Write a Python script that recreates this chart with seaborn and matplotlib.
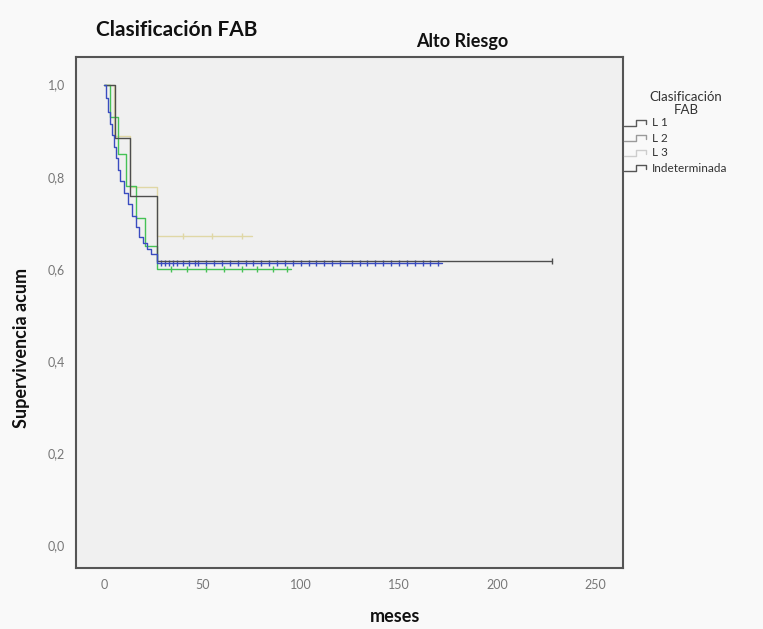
import numpy as np
import pandas as pd
import matplotlib
matplotlib.use("Agg")
import matplotlib.pyplot as plt
import seaborn as sns

# Kaplan-Meier step curves per FAB class (high-risk group)
groups = ["L 1", "L 2", "L 3", "Indeterminada"]

l1_t = [0, 1, 2, 3, 4, 5, 6, 7, 8, 10, 12, 14, 16, 18, 20, 22, 24, 27, 172]
l1_s = [1.0, 0.97, 0.94, 0.915, 0.89, 0.865, 0.84, 0.815, 0.79, 0.765, 0.74, 0.715,
        0.69, 0.67, 0.655, 0.642, 0.632, 0.612, 0.612]
l1_cens = [29, 31, 33, 35, 37, 40, 43, 46, 48, 52, 56, 60, 64, 68, 72, 76, 80, 84,
           88, 92, 96, 100, 104, 108, 112, 116, 120, 126, 130, 134, 138, 142, 146,
           150, 154, 158, 162, 166, 170]

l2_t = [0, 3, 7, 11, 16, 21, 27, 95]
l2_s = [1.0, 0.93, 0.85, 0.78, 0.71, 0.65, 0.600, 0.600]
l2_cens = [34, 42, 52, 61, 70, 78, 86, 93]

l3_t = [0, 5, 13, 27, 75]
l3_s = [1.0, 0.889, 0.778, 0.672, 0.672]
l3_cens = [40, 55, 70]

ind_t = [0, 5.5, 13, 27, 228]
ind_s = [1.0, 0.885, 0.757, 0.616, 0.616]
ind_cens = [228]

colors = {"L 1": "#3a4cc0", "L 2": "#45c255", "L 3": "#e0d7a6", "Indeterminada": "#4d4d4d"}
legend_colors = {"L 1": "#5a5a5a", "L 2": "#9a9a9a", "L 3": "#cdcdcd", "Indeterminada": "#555555"}

curves = {"L 1": (l1_t, l1_s, l1_cens), "L 2": (l2_t, l2_s, l2_cens),
          "L 3": (l3_t, l3_s, l3_cens), "Indeterminada": (ind_t, ind_s, ind_cens)}

rows, cens_rows = [], []
for g in groups:
    t, s, c = curves[g]
    for ti, si in zip(t, s):
        rows.append({"meses": ti, "surv": si, "grupo": g})
    for ci in c:
        cens_rows.append({"meses": ci, "surv": s[-1], "grupo": g})
df = pd.DataFrame(rows)
dfc = pd.DataFrame(cens_rows)

sns.set_theme(style="white")
plt.rcParams["font.family"] = ["Lato", "DejaVu Sans"]

fig = plt.figure(figsize=(7.63, 6.29), dpi=100, facecolor="#f9f9f9")
ax = fig.add_axes([76 / 763, 1 - 568 / 629, (623 - 76) / 763, (568 - 57) / 629])
ax.set_facecolor("#f0f0f0")

order_draw = ["L 3", "L 2", "Indeterminada", "L 1"]
for g in order_draw:
    sub = df[df["grupo"] == g]
    sns.lineplot(data=sub, x="meses", y="surv", ax=ax, color=colors[g],
                 drawstyle="steps-post", estimator=None, sort=False,
                 linewidth=1.0, legend=False)
    subc = dfc[dfc["grupo"] == g]
    sns.scatterplot(data=subc, x="meses", y="surv", ax=ax, color=colors[g],
                    marker="|", s=22, linewidth=1.0, legend=False)

ax.set_xlim(-14.3, 264)
ax.set_ylim(-0.05, 1.06)
ax.set_xticks([0, 50, 100, 150, 200, 250])
ax.set_yticks([0.0, 0.2, 0.4, 0.6, 0.8, 1.0])
ax.set_yticklabels(["0,0", "0,2", "0,4", "0,6", "0,8", "1,0"])
ax.tick_params(axis="both", direction="out", length=5, width=1.2, color="#444444",
               labelsize=9, labelcolor="#777777", pad=3)
ax.set_xlabel("")
ax.set_ylabel("")
for sp in ax.spines.values():
    sp.set_color("#555555")
    sp.set_linewidth(1.5)

fig.text(96 / 763, 1 - 30 / 629, "Clasificación FAB", fontsize=15, fontweight="bold",
         ha="left", va="center", color="#111111")
fig.text(462 / 763, 1 - 42 / 629, "Alto Riesgo", fontsize=13, fontweight="bold",
         ha="center", va="center", color="#111111")
fig.text(22 / 763, 1 - 348 / 629, "Supervivencia acum", fontsize=13, fontweight="bold",
         rotation=90, ha="center", va="center", color="#111111")
fig.text(395 / 763, 1 - 617 / 629, "meses", fontsize=13, fontweight="bold",
         ha="center", va="center", color="#111111")

# legend block to the right of the plot
fig.text(686 / 763, 1 - 97 / 629, "Clasificación", fontsize=9.5, ha="center",
         va="center", color="#333333")
fig.text(686 / 763, 1 - 110 / 629, "FAB", fontsize=9.5, ha="center",
         va="center", color="#333333")
for i, g in enumerate(groups):
    yc = 123 + 15 * i
    lo, hi = yc + 3, yc - 3
    xs = np.array([624, 636, 636, 646, 646]) / 763
    ys = 1 - np.array([lo, lo, hi, hi, yc + 1]) / 629
    fig.add_artist(plt.Line2D(xs, ys, color=legend_colors[g], linewidth=1.0))
    fig.text(652 / 763, 1 - yc / 629, g, fontsize=8.5, ha="left", va="center", color="#333333")

fig.savefig("out.png", dpi=100, facecolor=fig.get_facecolor())
